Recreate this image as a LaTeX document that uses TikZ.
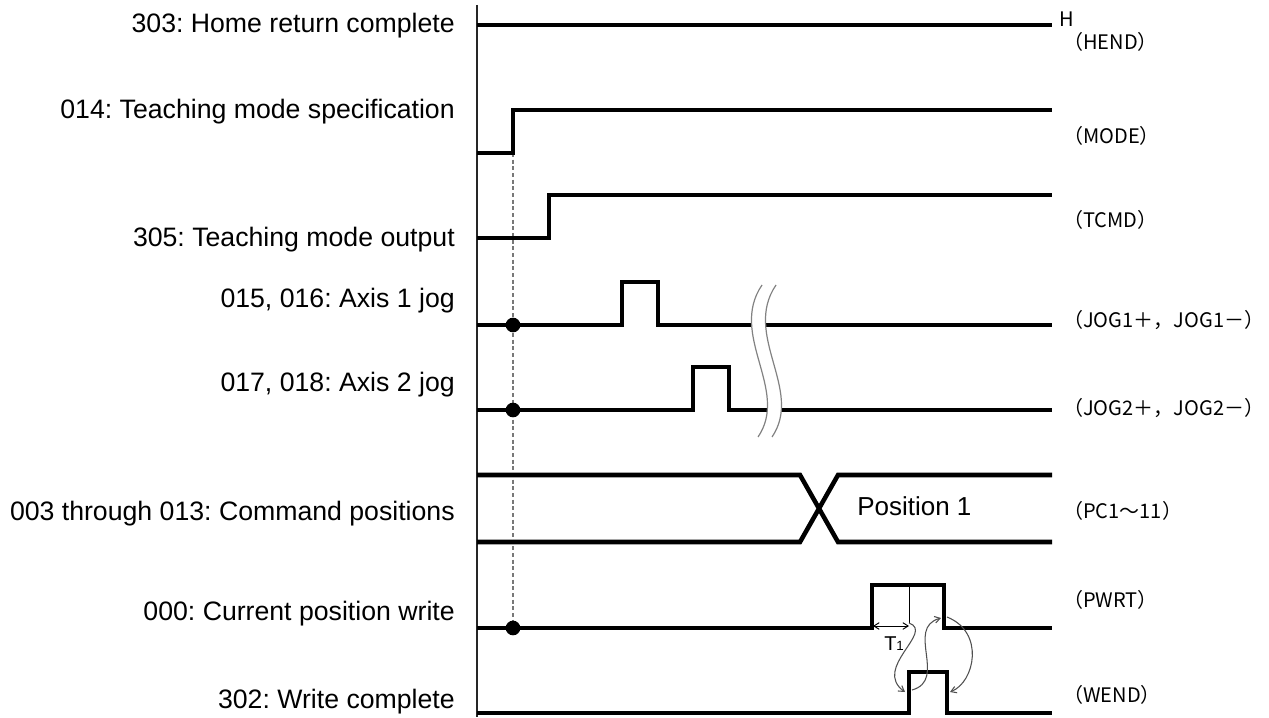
\documentclass[tikz,border=0pt]{standalone}
\usepackage{fontspec}
\setmainfont{Liberation Sans}
\newfontfamily\jpfont{Noto Sans CJK JP}
\usetikzlibrary{arrows.meta,positioning}
\frenchspacing
\definecolor{cSig}{RGB}{0,0,0}
\definecolor{cGuide}{RGB}{120,120,120}
\definecolor{cBreak}{RGB}{130,130,130}
\definecolor{cCurve}{RGB}{80,80,80}
\tikzset{
  sig/.style={line width=3.4pt,color=cSig,line join=miter},
  axisln/.style={line width=1pt,color=black!85},
  guideln/.style={line width=0.8pt,color=cGuide,dash pattern=on 3pt off 2pt},
  brkln/.style={line width=0.9pt,color=cBreak},
  sname/.style={anchor=base east,inner sep=0pt,font=\fontsize{20pt}{23pt}\selectfont},
  rname/.style={anchor=base west,inner sep=0pt,font=\jpfont\fontsize{15pt}{18pt}\selectfont},
  dotnode/.style={circle,fill=black,inner sep=0pt,minimum size=11pt},
  thinln/.style={line width=0.6pt,color=black},
  carr/.style={-{Straight Barb[length=4pt,width=5pt]},line width=0.8pt,color=cCurve},
  tarr/.style={{Straight Barb[length=4pt,width=5pt]}-{Straight Barb[length=4pt,width=5pt]},line width=0.7pt,color=black}
}
\begin{document}
\begin{tikzpicture}[x=0.75pt,y=-0.75pt]
  \useasboundingbox (0,0) rectangle (1269,717);

  % signal names, left
  \node[sname] (n-hend) at (455,33) {303: Home return complete};
  \node[sname] (n-mode) at (455,118) {014: Teaching mode specification};
  \node[sname] (n-tcmd) at (455,246) {305: Teaching mode output};
  \node[sname] (n-jog1) at (455,307) {015, 016: Axis 1 jog};
  \node[sname] (n-jog2) at (455,391) {017, 018: Axis 2 jog};
  \node[sname] (n-pc) at (455,520) {003 through 013: Command positions};
  \node[sname] (n-pwrt) at (455,620) {000: Current position write};
  \node[sname] (n-wend) at (455,708) {302: Write complete};

  % signal names, right
  \node[rname] (h-lvl) at (1059,27) {H};
  \node[rname] (r-hend) at (1063,50) {（HEND）};
  \node[rname] (r-mode) at (1063,143) {（MODE）};
  \node[rname] (r-tcmd) at (1063,227) {（TCMD）};
  \node[rname] (r-jog1) at (1063,327) {（JOG1＋，JOG1－）};
  \node[rname] (r-jog2) at (1063,415) {（JOG2＋，JOG2－）};
  \node[rname] (r-pc) at (1063,518) {（PC1～11）};
  \node[rname] (r-pwrt) at (1063,607) {（PWRT）};
  \node[rname] (r-wend) at (1063,702) {（WEND）};

  % time axis and guide
  \draw[axisln] (477,5) -- (477,717);
  \draw[guideln] (513,153) -- (513,628);

  % waveforms
  \draw[sig] (477,25) -- (1052,25);
  \draw[sig] (477,153) -- (513,153) -- (513,110) -- (1052,110);
  \draw[sig] (477,238) -- (549,238) -- (549,195) -- (1052,195);
  \draw[sig] (477,325) -- (622,325) -- (622,282) -- (658,282) -- (658,325) -- (1052,325);
  \draw[sig] (477,410) -- (693,410) -- (693,367) -- (729,367) -- (729,410) -- (1052,410);
  \draw[sig] (477,475) -- (800,475) -- (838,542) -- (1052,542);
  \draw[sig] (477,542) -- (800,542) -- (838,475) -- (1052,475);
  \draw[sig] (477,628) -- (872,628) -- (872,585) -- (944,585) -- (944,628) -- (1052,628);
  \draw[sig] (477,713) -- (909,713) -- (909,672) -- (947,672) -- (947,713) -- (1052,713);
  \node[anchor=base west,inner sep=0pt,font=\fontsize{19.5pt}{22pt}\selectfont] (pos1) at (857,515) {Position 1};

  % start points
  \node[dotnode] (d-jog1) at (513,325) {};
  \node[dotnode] (d-jog2) at (513,410) {};
  \node[dotnode] (d-pwrt) at (513,628) {};

  % break mark
  \fill[white] (762,285) .. controls (728,335) and (790,390) .. (758,437)
    -- (772,437) .. controls (804,390) and (742,335) .. (776,285) -- cycle;
  \draw[brkln] (762,285) .. controls (728,335) and (790,390) .. (758,437);
  \draw[brkln] (776,285) .. controls (742,335) and (804,390) .. (772,437);

  % T1 and handshake
  \coordinate (pw-up) at (873,626);
  \coordinate (t1-top) at (909,585);
  \coordinate (t1-bot) at (909,623);
  \coordinate (we-up) at (905,692);
  \coordinate (we-up2) at (912,690);
  \coordinate (pw-dn) at (941,618);
  \coordinate (pw-dn2) at (947,617);
  \coordinate (we-dn) at (950,692);
  \draw[thinln] (t1-top) -- (t1-bot);
  \draw[tarr] (pw-up) -- (t1-bot |- pw-up);
  \node[anchor=base west,inner sep=0pt,font=\fontsize{15pt}{17pt}\selectfont] (t1) at (884,650) {T{\fontsize{10pt}{11pt}\selectfont 1}};
  \draw[carr] (t1-bot) .. controls (935,632) and (872,668) .. (we-up);
  \draw[carr] (we-up2) .. controls (948,680) and (905,628) .. (pw-dn);
  \draw[carr] (pw-dn2) .. controls (985,632) and (975,682) .. (we-dn);
\end{tikzpicture}
\end{document}
